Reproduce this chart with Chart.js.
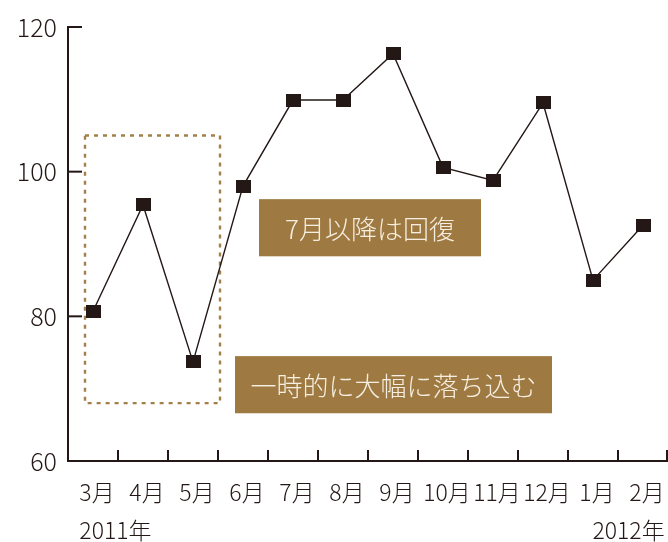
<!DOCTYPE html>
<html>
<head>
<meta charset="utf-8">
<script src="https://cdn.jsdelivr.net/npm/chart.js@4"></script>
<style>
html,body{margin:0;padding:0;background:#fff;}
#c{display:block;}
</style>
</head>
<body>
<canvas id="c" width="668" height="542"></canvas>
<script>
const categories = ['3月','4月','5月','6月','7月','8月','9月','10月','11月','12月','1月','2月'];
const values = [80.7, 95.4, 73.7, 98.0, 109.9, 109.9, 116.3, 100.6, 98.8, 109.5, 85.0, 92.6];
const yTicks = [60, 80, 100, 120];
const yearLabels = ['2011年', '2012年'];
const noteTexts = ['7月以降は回復', '一時的に大幅に落ち込む'];

const INK = '#231815';
const BROWN = '#9e7a42';
const FONT = "'Noto Sans CJK JP', 'Noto Sans', sans-serif";
const LABEL_SHIFT = 4;

// marker
const mk = document.createElement('canvas');
mk.width = 15; mk.height = 13;
const mctx = mk.getContext('2d');
mctx.fillStyle = INK;
mctx.fillRect(0, 0, 15, 13);

const deco = {
  id: 'deco',
  beforeDatasetsDraw(chart) {
    const ctx = chart.ctx;
    const xs = chart.scales.x, ys = chart.scales.y;
    const step = xs.getPixelForValue(1) - xs.getPixelForValue(0);
    const px = i => xs.getPixelForValue(0) + i * step;
    ctx.save();
    // dashed box
    ctx.strokeStyle = '#a47f4a';
    ctx.lineWidth = 2.4;
    ctx.setLineDash([4, 5]);
    ctx.strokeRect(px(-0.16), ys.getPixelForValue(105), px(2.54) - px(-0.16), ys.getPixelForValue(68) - ys.getPixelForValue(105));
    ctx.setLineDash([]);
    // note boxes
    const boxes = [
      {x0: 3.32, x1: 7.76, y0: 96.2, y1: 88.3, t: noteTexts[0]},
      {x0: 2.84, x1: 9.18, y0: 74.5, y1: 66.6, t: noteTexts[1]}
    ];
    boxes.forEach(b => {
      const l = px(b.x0), r = px(b.x1), t = ys.getPixelForValue(b.y0), bt = ys.getPixelForValue(b.y1);
      ctx.fillStyle = BROWN;
      ctx.fillRect(l, t, r - l, bt - t);
      ctx.fillStyle = '#f6eee0';
      ctx.font = '300 26px ' + FONT;
      ctx.textAlign = 'center';
      ctx.textBaseline = 'middle';
      ctx.fillText(b.t, (l + r) / 2, (t + bt) / 2 + 1);
    });
    ctx.restore();
  },
  afterDraw(chart) {
    const ctx = chart.ctx;
    const xs = chart.scales.x, ys = chart.scales.y;
    const ca = chart.chartArea;
    const step = xs.getPixelForValue(1) - xs.getPixelForValue(0);
    ctx.save();
    ctx.strokeStyle = INK;
    ctx.lineWidth = 2;
    // y ticks inward
    yTicks.forEach(v => {
      const y = ys.getPixelForValue(v);
      ctx.beginPath();
      ctx.moveTo(ca.left, y);
      ctx.lineTo(ca.left + 14, y);
      ctx.stroke();
    });
    // x ticks upward at category boundaries
    for (let i = 0; i < categories.length; i++) {
      const xx = Math.min(xs.getPixelForValue(i) + step / 2, ca.right - 1);
      ctx.beginPath();
      ctx.moveTo(xx, ca.bottom);
      ctx.lineTo(xx, ca.bottom - 11);
      ctx.stroke();
    }
    // year labels
    ctx.font = '300 23px ' + FONT;
    ctx.fillStyle = INK;
    ctx.textBaseline = 'middle';
    const y2 = ca.bottom + 69;
    const firstX = xs.getPixelForValue(0) + LABEL_SHIFT;
    const wFirst = ctx.measureText(categories[0]).width;
    ctx.textAlign = 'left';
    ctx.fillText(yearLabels[0], firstX - wFirst / 2, y2);
    const lastX = xs.getPixelForValue(categories.length - 1) + LABEL_SHIFT;
    const wLast = ctx.measureText(categories[categories.length - 1]).width;
    ctx.textAlign = 'right';
    ctx.fillText(yearLabels[1], lastX + wLast / 2, y2);
    ctx.restore();
  }
};

new Chart(document.getElementById('c'), {
  type: 'line',
  data: {
    labels: categories,
    datasets: [{
      data: values,
      borderColor: INK,
      borderWidth: 1.4,
      pointStyle: mk,
      pointRadius: 7,
      pointBackgroundColor: INK,
      pointBorderColor: INK,
      tension: 0,
      fill: false,
      clip: false
    }]
  },
  options: {
    responsive: false,
    animation: false,
    devicePixelRatio: 1,
    layout: { autoPadding: false, padding: { top: 27, right: 0, left: 0, bottom: 0 } },
    plugins: { legend: { display: false }, tooltip: { enabled: false } },
    scales: {
      x: {
        offset: true,
        grid: { display: false, drawTicks: false },
        border: { display: true, color: INK, width: 2 },
        ticks: { color: INK, font: { family: FONT, size: 23, weight: 300 }, padding: 17, labelOffset: LABEL_SHIFT, maxRotation: 0, autoSkip: false },
        afterFit(s) { s.height = 81; s.paddingLeft = 0; s.paddingRight = 0; }
      },
      y: {
        min: 60, max: 120,
        afterBuildTicks(s) { s.ticks = yTicks.map(v => ({ value: v })); },
        grid: { display: false, drawTicks: false },
        border: { display: true, color: INK, width: 2 },
        ticks: { color: INK, font: { family: FONT, size: 25, weight: 300 }, padding: 11 },
        afterFit(s) { s.width = 68; }
      }
    }
  },
  plugins: [deco]
});
</script>
</body>
</html>
